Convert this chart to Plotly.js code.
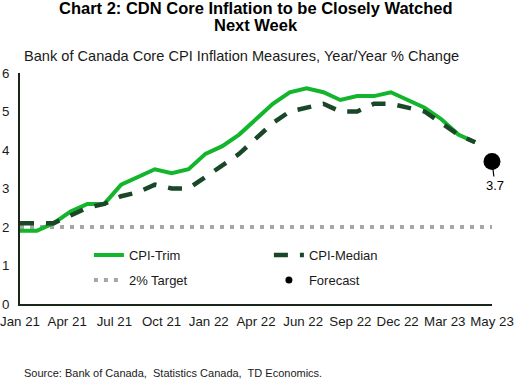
<!DOCTYPE html>
<html>
<head>
<meta charset="utf-8">
<script src="https://cdn.plot.ly/plotly-3.0.1.min.js"></script>
<style>html,body{margin:0;padding:0;background:#fff;}#chart{width:515px;height:379px;}</style>
</head>
<body>
<div id="chart"></div>
<script>
// Monthly data, Jan 2021 .. Apr 2023 (actuals), forecast May 2023
var months = ["2021-01","2021-02","2021-03","2021-04","2021-05","2021-06","2021-07","2021-08","2021-09","2021-10","2021-11","2021-12",
              "2022-01","2022-02","2022-03","2022-04","2022-05","2022-06","2022-07","2022-08","2022-09","2022-10","2022-11","2022-12",
              "2023-01","2023-02","2023-03","2023-04","2023-05"];
var cpiTrim   = [1.9,1.9,2.1,2.4,2.6,2.6,3.1,3.3,3.5,3.4,3.5,3.9,4.1,4.4,4.8,5.2,5.5,5.6,5.5,5.3,5.4,5.4,5.5,5.3,5.1,4.8,4.4,4.2];
var cpiMedian = [2.1,2.1,2.1,2.3,2.5,2.6,2.8,2.9,3.1,3.0,3.0,3.3,3.6,3.9,4.3,4.7,5.0,5.1,5.2,5.0,5.0,5.2,5.2,5.1,5.0,4.7,4.4,4.2];
var targetValue = 2;
var forecastMonth = "2023-05";
var forecastValue = 3.7;
var tickLabels = ["Jan 21","Apr 21","Jul 21","Oct 21","Jan 22","Apr 22","Jun 22","Sep 22","Dec 22","Mar 23","May 23"];
var titleLines = ["Chart 2: CDN Core Inflation to be Closely Watched", "Next Week"];

var idx = months.map(function(m,i){return i;});
var nLast = months.length - 1;
var tickVals = tickLabels.map(function(t,i){return i*nLast/(tickLabels.length-1);});
var fIdx = months.indexOf(forecastMonth);
var font = "Liberation Sans, Arial, sans-serif";
var legFont = {family: font, size: 13, color: "#1a1a1a"};

var traces = [
  {x: idx, y: idx.map(function(){return targetValue;}), name: "2% Target", mode: "lines",
   legend: "legend2", legendrank: 1,
   line: {color: "#a6a6a6", width: 4, dash: "4px,6px"}},
  {x: idx.slice(0,cpiTrim.length), y: cpiTrim, name: "CPI-Trim", mode: "lines", legendrank: 1,
   line: {color: "#12b52c", width: 4}},
  {x: idx.slice(0,cpiMedian.length), y: cpiMedian, name: "CPI-Median", mode: "lines", legendrank: 2,
   line: {color: "#1a4727", width: 4.5, dash: "14px,12px"}},
  {x: [fIdx], y: [forecastValue], name: "Forecast", mode: "markers", showlegend: false,
   marker: {color: "#000", size: 17}, cliponaxis: false},
  {x: [fIdx], y: [forecastValue], name: "Forecast", mode: "markers", legend: "legend2", legendrank: 2,
   marker: {color: "#000", size: 7}, cliponaxis: false}
];

var layout = {
  width: 515, height: 379,
  margin: {l: 20, r: 23, t: 73, b: 75},
  paper_bgcolor: "#fff", plot_bgcolor: "#fff",
  font: {family: font, size: 13, color: "#1a1a1a"},
  showlegend: true,
  legend: {orientation: "h", x: 0.146, y: 0.212, xanchor: "left", yanchor: "middle",
           entrywidth: 135, font: legFont, bgcolor: "rgba(0,0,0,0)"},
  legend2: {orientation: "h", x: 0.146, y: 0.104, xanchor: "left", yanchor: "middle",
           entrywidth: 135, font: legFont, bgcolor: "rgba(0,0,0,0)"},
  xaxis: {range: [0, nLast], tickvals: tickVals, ticktext: tickLabels, showgrid: false,
          zeroline: false, showline: true, linecolor: "#1b261b", linewidth: 2, ticks: "",
          ticklabelstandoff: 4,
          tickfont: {family: font, size: 13.3, color: "#1a1a1a"}, fixedrange: true},
  yaxis: {range: [0, 6], dtick: 1, showgrid: false, zeroline: false, showline: true,
          linecolor: "#1b261b", linewidth: 2, ticks: "", ticklabelstandoff: 6,
          tickfont: {family: font, size: 13.3, color: "#1a1a1a"}, fixedrange: true},
  annotations: [
    {xref: "paper", yref: "paper", x: 0.5, y: 1, showarrow: false, xanchor: "center", yanchor: "middle",
     text: "<b>" + titleLines[0] + "</b>", yshift: 65,
     font: {family: font, size: 16.5, color: "#000"}},
    {xref: "paper", yref: "paper", x: 0.5, y: 1, showarrow: false, xanchor: "center", yanchor: "middle",
     text: "<b>" + titleLines[1] + "</b>", yshift: 48,
     font: {family: font, size: 16.5, color: "#000"}},
    {xref: "paper", yref: "paper", x: 0.004, y: 1, showarrow: false, xanchor: "left", yanchor: "bottom", yshift: 7,
     text: "Bank of Canada Core CPI Inflation Measures, Year/Year % Change",
     font: {family: font, size: 14.6, color: "#1a1a1a"}},
    {x: fIdx, y: forecastValue, text: String(forecastValue),
     showarrow: true, arrowhead: 0, arrowwidth: 1.2, arrowcolor: "#000", ax: 3, ay: 24, standoff: 0,
     font: {family: font, size: 13, color: "#000"}},
    {xref: "paper", yref: "paper", x: 0, y: 0, xanchor: "left", yanchor: "top", yshift: -61, xshift: 2,
     showarrow: false, text: "Source: Bank of Canada,  Statistics Canada,  TD Economics.",
     font: {family: font, size: 11, color: "#1a1a1a"}}
  ]
};

Plotly.newPlot("chart", traces, layout, {displayModeBar: false, staticPlot: true});
</script>
</body>
</html>
